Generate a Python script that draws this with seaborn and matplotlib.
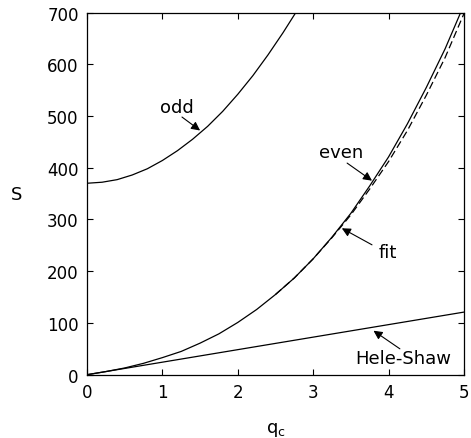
import matplotlib
matplotlib.use("Agg")
import matplotlib.pyplot as plt
import seaborn as sns
import pandas as pd

# valores
q_odd = [0.0, 0.2, 0.4, 0.6, 0.8, 1.0, 1.2, 1.4, 1.6, 1.8, 2.0, 2.2, 2.4, 2.6, 2.8]
s_odd = [370, 372, 377, 386, 398, 414, 433, 455, 480, 509, 542, 578, 618, 661, 707]

q_even = [0.0, 0.25, 0.5, 0.75, 1.0, 1.25, 1.5, 1.75, 2.0, 2.25, 2.5, 2.75,
          3.0, 3.25, 3.5, 3.75, 4.0, 4.25, 4.5, 4.75, 5.0]
s_even = [0, 6, 13, 22, 33, 45, 61, 79, 101, 126, 155, 187,
          224, 266, 312, 365, 421, 485, 555, 630, 715]

q_fit = [2.5, 2.75, 3.0, 3.25, 3.5, 3.75, 4.0, 4.25, 4.5, 4.75, 5.0]
s_fit = [155, 187, 224, 265, 309, 359, 412, 472, 540, 613, 698]

q_hs = [0.0, 5.0]
s_hs = [0, 121]

xticks = [0, 1, 2, 3, 4, 5]
yticks = [0, 100, 200, 300, 400, 500, 600, 700]

sns.set_style("ticks")
plt.rcParams['font.family'] = ['DejaVu Sans']
plt.rcParams['xtick.direction'] = 'in'
plt.rcParams['ytick.direction'] = 'in'
for k in ['text.color', 'axes.labelcolor', 'xtick.color', 'ytick.color', 'axes.edgecolor']:
    plt.rcParams[k] = 'black'

fig = plt.figure(figsize=(4.71, 4.39), dpi=100)
ax = fig.add_axes([0.1847, 0.1442, 0.8004, 0.825])

sns.lineplot(data=pd.DataFrame({'q': q_odd, 'S': s_odd}), x='q', y='S',
             ax=ax, color='k', lw=0.9)
sns.lineplot(data=pd.DataFrame({'q': q_even, 'S': s_even}), x='q', y='S',
             ax=ax, color='k', lw=0.9)
sns.lineplot(data=pd.DataFrame({'q': q_fit, 'S': s_fit}), x='q', y='S',
             ax=ax, color='k', lw=0.9, dashes=False, linestyle=(0, (6, 3)))
sns.lineplot(data=pd.DataFrame({'q': q_hs, 'S': s_hs}), x='q', y='S',
             ax=ax, color='k', lw=0.9)

ax.set_xlim(0, 5)
ax.set_ylim(0, 700)
ax.set_xticks(xticks)
ax.set_yticks(yticks)
ax.tick_params(top=True, right=True, length=4, width=0.8, labelsize=12, pad=6)
for sp in ax.spines.values():
    sp.set_linewidth(0.9)

ax.set_xlabel(r'q$_\mathregular{c}$', fontsize=13, labelpad=14)
ax.set_ylabel('S', fontsize=13, rotation=0, labelpad=22, va='center')

flecha = dict(arrowstyle='-|>', lw=0.8, color='k', mutation_scale=13,
              shrinkA=0, shrinkB=0)
etiquetas = [
    ('odd', (1.19, 517), (1.26, 498), (1.50, 472)),
    ('even', (3.37, 431), (3.45, 409), (3.78, 375)),
    ('fit', (3.99, 237), (3.78, 251), (3.38, 283)),
    ('Hele-Shaw', (4.19, 32), (4.15, 50), (3.80, 85)),
]
for txt, pos, cola, punta in etiquetas:
    ax.text(pos[0], pos[1], txt, fontsize=13, ha='center', va='center')
    ax.annotate('', xy=punta, xytext=cola, arrowprops=flecha)

fig.savefig('out.png', dpi=100)
